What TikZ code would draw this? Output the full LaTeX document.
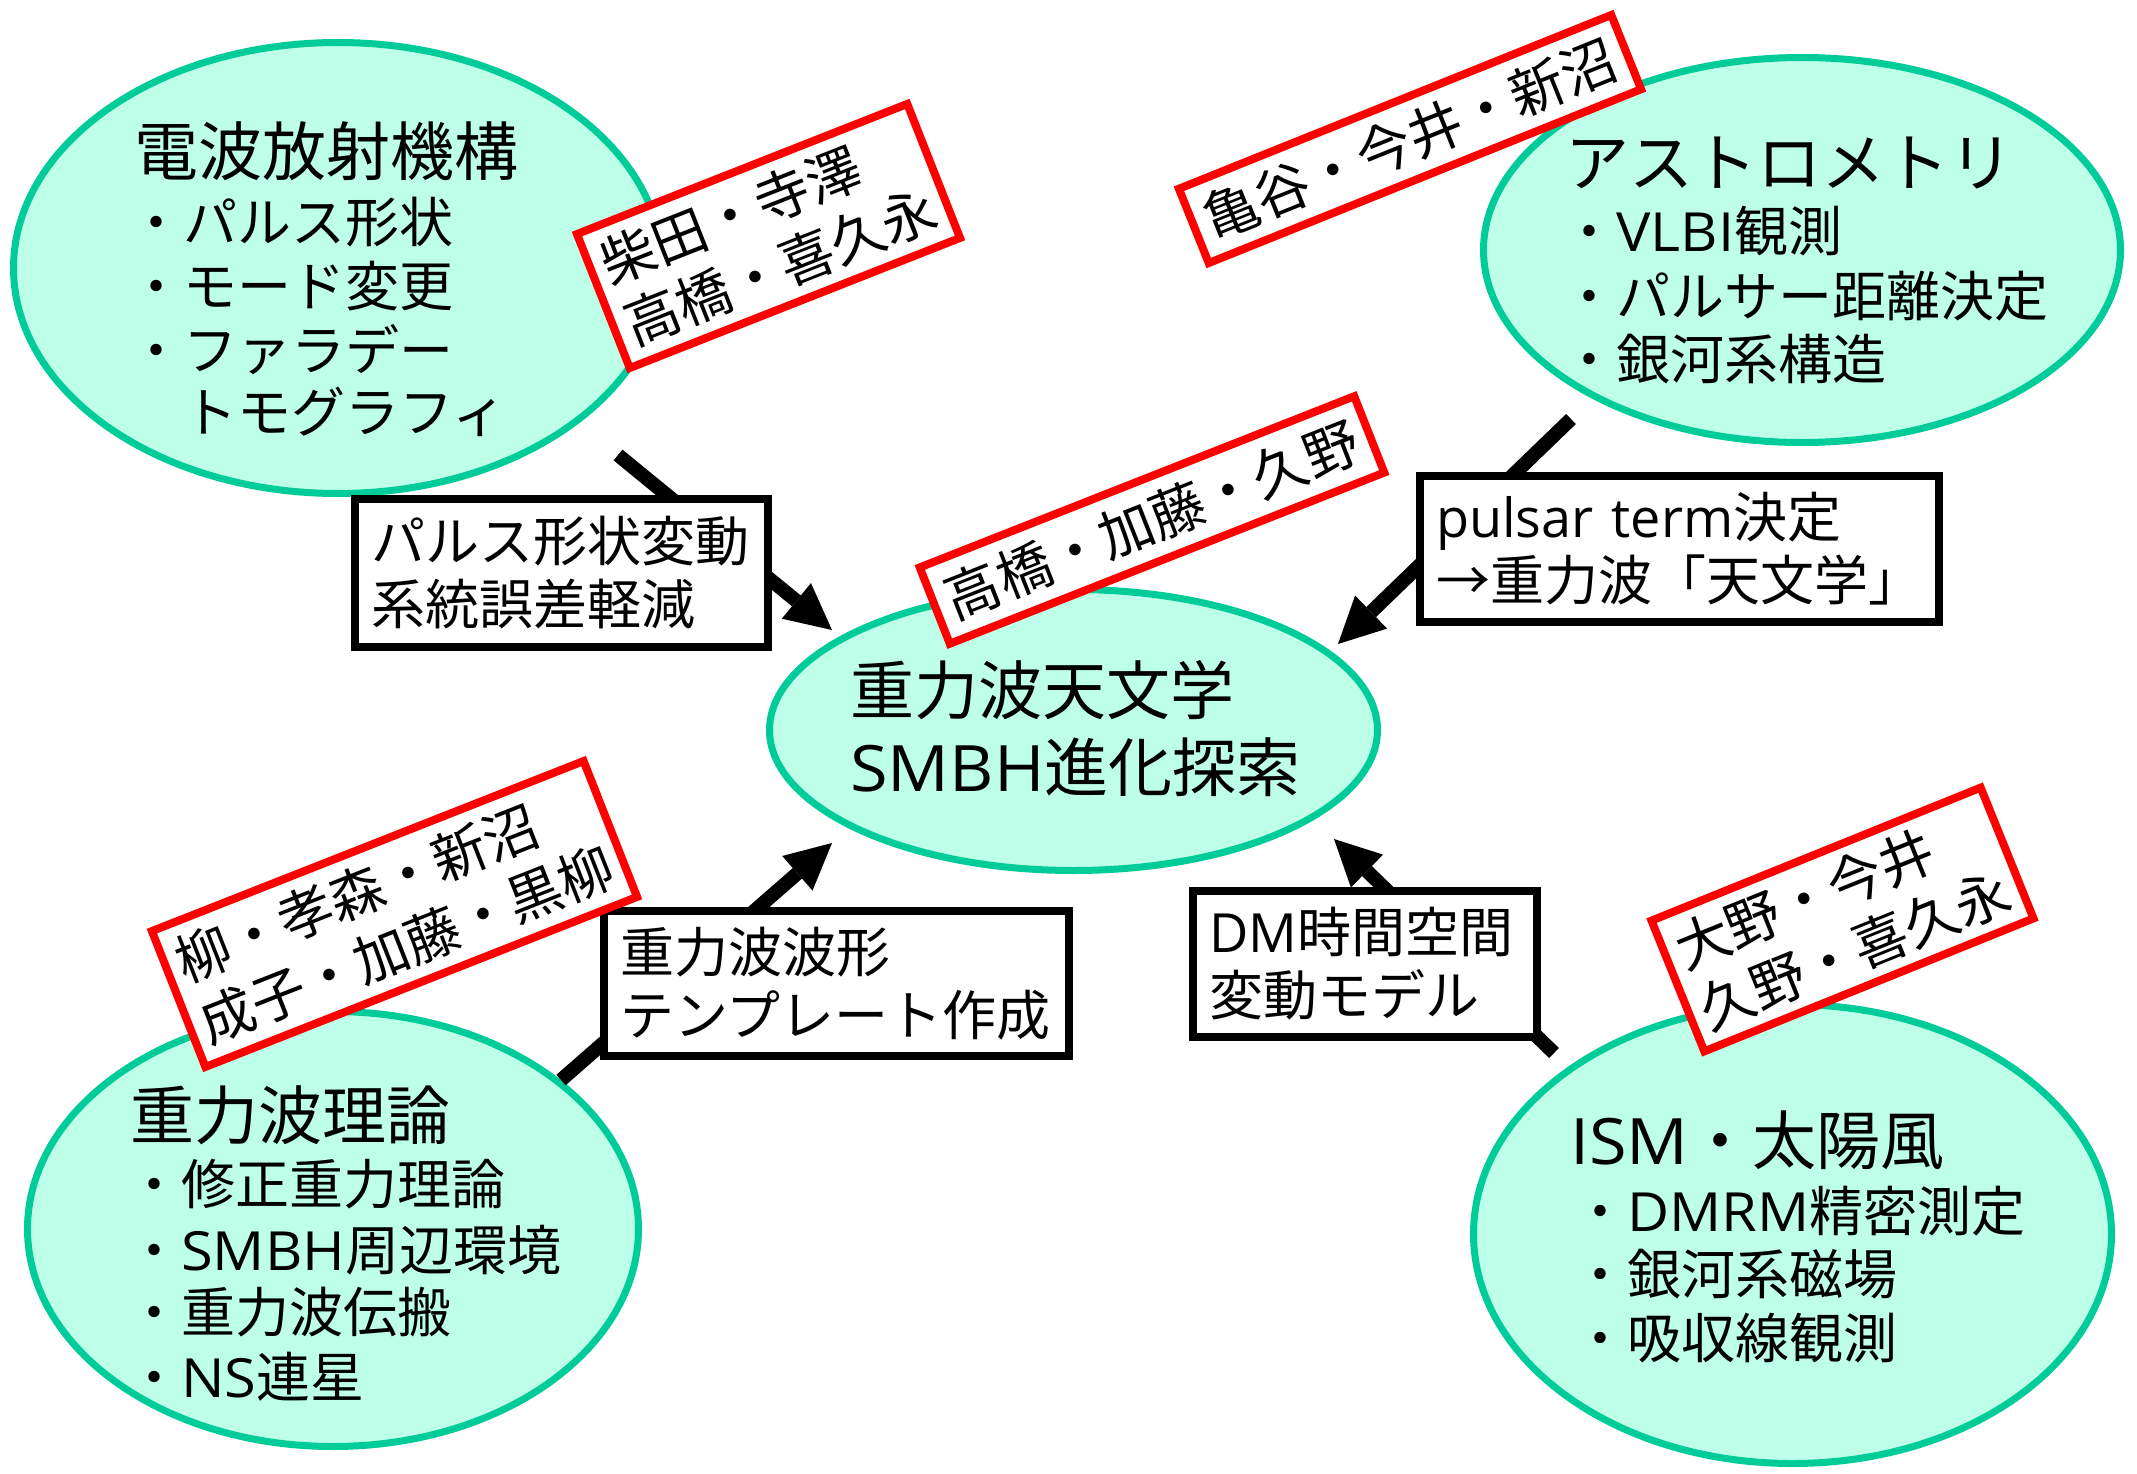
\documentclass[tikz,border=0pt]{standalone}
\usepackage{fontspec}
\setmainfont{Noto Sans CJK JP}
\newfontfamily\lat{Open Sans}
\newfontfamily\latc[FakeStretch=1.07]{Open Sans}
\usetikzlibrary{arrows.meta,shapes.geometric}
\definecolor{mint}{RGB}{190,255,234}
\definecolor{ebord}{RGB}{0,204,153}
\newcommand\ttl{\fontsize{64}{77}\selectfont}
\newcommand\itm{\fontsize{54}{64}\selectfont}
\newcommand\bs[1]{\baselineskip=#1pt}
\tikzset{
  topic/.style={ellipse, draw=ebord, fill=mint, line width=7pt, inner sep=0pt},
  names/.style={draw=red, line width=8pt, fill=white, align=left, inner sep=0pt,
                font=\fontsize{55}{66}\selectfont},
  lbl/.style={draw=black, line width=8pt, fill=white, align=left, inner xsep=16pt,
              inner ysep=0pt, font=\fontsize{54}{63}\selectfont},
  arr/.style={line width=14pt, -{Triangle[length=46pt,width=46pt,line width=0pt]}},
  txt/.style={inner sep=0pt, anchor=base west}
}
\begin{document}
\begin{tikzpicture}[x=1pt,y=-1pt]
\useasboundingbox[fill=white] (0,0) rectangle (2137,1474);

% topic ellipses
\node[topic, minimum width=649pt, minimum height=451pt] (e1) at (338,268) {};
\node[topic, minimum width=637pt, minimum height=385pt] (e2) at (1802,250) {};
\node[topic, minimum width=611pt, minimum height=435pt] (e3) at (333,1229) {};
\node[topic, minimum width=638pt, minimum height=459pt] (e4) at (1792.5,1234) {};
\node[topic, minimum width=608pt, minimum height=281pt] (ec) at (1073.5,730) {};

% ellipse texts
\node[txt] (e1t) at (129,175.3) {\vtop{\lineskiplimit=-1000pt\lineskip=0pt\bs{67.2}%
  \hbox{\ttl\kern5pt 電波放射機構}\hbox{\itm ・パルス形状}\bs{64}%
  \hbox{\itm ・モード変更}\hbox{\itm ・ファラデー}\bs{62}%
  \hbox{\itm\phantom{・}トモグラフィ}}};
\node[txt] (e2t) at (1562,186.3) {\vtop{\lineskiplimit=-1000pt\lineskip=0pt\bs{65.2}%
  \hbox{\ttl\kern3pt アストロメトリ}\hbox{\itm ・{\latc VLBI}観測}\bs{65}%
  \hbox{\itm ・パルサー距離決定}\bs{63}\hbox{\itm ・銀河系構造}}};
\node[txt] (e3t) at (127,1139.5) {\vtop{\lineskiplimit=-1000pt\lineskip=0pt\bs{65}%
  \hbox{\ttl\kern3pt 重力波理論}\hbox{\itm ・修正重力理論}\bs{65.5}%
  \hbox{\itm ・{\latc SMBH}周辺環境}\bs{62.5}\hbox{\itm ・重力波伝搬}\bs{65}%
  \hbox{\itm ・{\latc NS}連星}}};
\node[txt] (e4t) at (1573,1164) {\vtop{\lineskiplimit=-1000pt\lineskip=0pt\bs{67.5}%
  \hbox{\ttl\kern-3pt {\latc ISM}・太陽風}\hbox{\itm ・{\latc DMRM}精密測定}\bs{63}%
  \hbox{\itm ・銀河系磁場}\bs{63.5}\hbox{\itm ・吸収線観測}}};
\node[txt] (ect) at (850,714) {\vtop{\lineskiplimit=-1000pt\lineskip=0pt\bs{77}%
  \hbox{\ttl 重力波天文学}\hbox{\ttl {\latc SMBH}進化探索}}};

% connectors
\coordinate (aA) at (618,455);  \coordinate (tA) at (832,630);
\coordinate (aB) at (1571,419); \coordinate (tB) at (1338,644);
\coordinate (aC) at (561,1080); \coordinate (tC) at (832,843);
\coordinate (aD) at (1554,1053);\coordinate (tD) at (1334,839);
\draw[arr] (aA) -- (tA);
\draw[arr] (aB) -- (tB);
\draw[arr] (aC) -- (tC);
\draw[arr] (aD) -- (tD);

% black label boxes
\node[lbl, text width=381pt, minimum height=148pt] (bA) at (561.5,573)
  {パルス形状変動\\系統誤差軽減};
\node[lbl, text width=487pt, minimum height=145.5pt] (bB) at (1679.5,549)
  {{\lat pulsar term}決定\\→重力波「天文学」};
\node[lbl, text width=433pt, minimum height=145pt] (bC) at (836.5,983.5)
  {重力波波形\\テンプレート作成};
\node[lbl, text width=312pt, minimum height=146pt] (bD) at (1365,963.5)
  {{\lat DM}時間空間\\変動モデル};

% red name boxes
\node[names, rotate=21.5, minimum width=355pt, minimum height=144pt] (r1) at (768.5,236)
  {柴田・寺澤\\高橋・喜久永};
\node[names, rotate=21.9, minimum width=466pt, minimum height=80pt] (r2) at (1410,139)
  {亀谷・今井・新沼};
\node[names, rotate=21.5, minimum width=467pt, minimum height=82pt] (r3) at (1152,520)
  {高橋・加藤・久野};
\node[names, rotate=21.5, minimum width=464pt, minimum height=146pt] (r4) at (394.5,914)
  {柳・孝森・新沼\\成子・加藤・黒柳};
\node[names, rotate=22, minimum width=355pt, minimum height=141pt] (r5) at (1842.5,919.5)
  {大野・今井\\久野・喜久永};
\end{tikzpicture}
\end{document}
